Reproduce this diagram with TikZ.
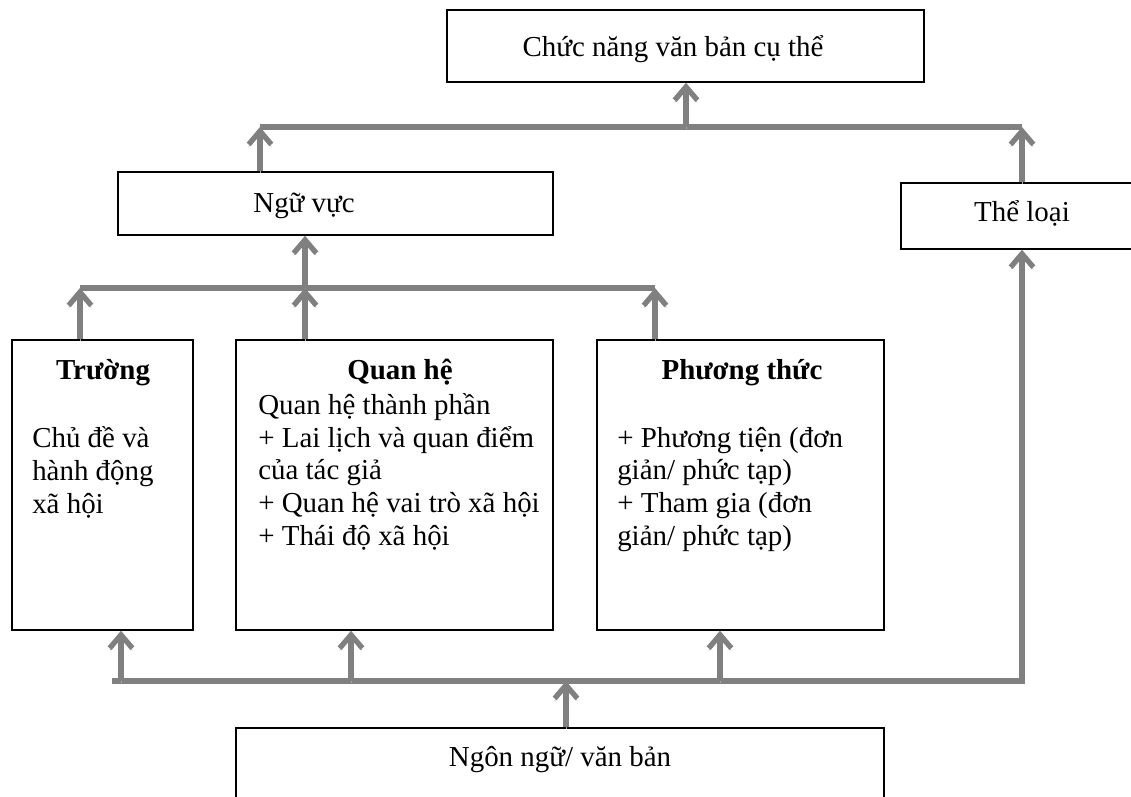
\documentclass[tikz,border=0pt]{standalone}
\usepackage{fontspec}
\setmainfont{Liberation Serif}
\usetikzlibrary{arrows.meta, positioning, fit}
\tikzset{
    x=0.75pt, y=-0.75pt, % one unit is one pixel of the drawing
    every node/.style={font=\fontsize{21.7}{24.4}\selectfont}, % Times-like text everywhere
    box/.style={draw, line width=1.1pt, inner sep=0pt}, % the plain rectangles
    boxtext/.style={anchor=base, inner sep=0pt}, % one centred line in a box
    bodytext/.style={anchor=base west, align=left, inner sep=0pt}, % left aligned lines, placed by the last one
    bar/.style={draw=gray, line width=4pt,
        preaction={draw=gray!70, transform canvas={yshift=-1.6pt}}}, % thick grey rail with its shadow
    link/.style={bar, -{Straight Barb[length=10pt, width=17pt, line width=4pt]}}, % grey rail ending in an arrow
}
\begin{document}
\begin{tikzpicture}
    \useasboundingbox (0,0) rectangle (1131,796);

    % boxes
    \node[box, fit={(447,10) (924,82)}] (chucnang) {};
    \node[box, fit={(118,172) (553,235)}] (nguvuc) {};
    \node[box, fit={(901,183) (1150,249)}] (theloai) {};
    \node[box, fit={(12,340) (193,630)}] (truong) {};
    \node[box, fit={(236,340) (553,630)}] (quanhe) {};
    \node[box, fit={(597,340) (884,630)}] (phuongthuc) {};
    \node[box, fit={(236,728) (884,850)}] (ngonngu) {};

    % texts
    \node[boxtext] (chucnang-t) at (673,56) {Chức năng văn bản cụ thể};
    \node[boxtext] (nguvuc-t) at (304,212) {Ngữ vực};
    \node[boxtext] (theloai-t) at (1022,221) {Thể loại};
    \node[boxtext] (ngonngu-t) at (560,766) {Ngôn ngữ/ văn bản};
    \node[boxtext] (truong-t) at (103,379) {\textbf{Trường}};
    \node[boxtext] (quanhe-t) at (400,379) {\textbf{Quan hệ}};
    \node[boxtext] (phuongthuc-t) at (742,379) {\textbf{Phương thức}};
    \node[bodytext] (truong-b) at (32,513) {Chủ đề và\\hành động\\xã hội};
    \node[bodytext] (quanhe-b) at (258,545) {Quan hệ thành phần\\+ Lai lịch và quan điểm\\của tác giả\\+ Quan hệ vai trò xã hội\\+ Thái độ xã hội};
    \node[bodytext] (phuongthuc-b) at (617,545) {+ Phương tiện (đơn\\giản/ phức tạp)\\+ Tham gia (đơn\\giản/ phức tạp)};

    % rails
    \coordinate (b1l) at (260,127);
    \coordinate (b1m) at (686,127);
    \coordinate (b1r) at (1022,127);
    \coordinate (b2l) at (80,288);
    \coordinate (b2m) at (305,288);
    \coordinate (b2r) at (655,288);
    \coordinate (b3l) at (112,681);
    \coordinate (b3a) at (121,681);
    \coordinate (b3b) at (351,681);
    \coordinate (b3m) at (566,681);
    \coordinate (b3c) at (720,681);
    \coordinate (b3r) at (1022,681);

    \draw[bar] (b1l) -- (b1r);
    \draw[link] (b1m) -- (b1m |- chucnang.south);
    \draw[link] (b1l |- nguvuc.north) -- (b1l);
    \draw[link] (b1r |- theloai.north) -- (b1r);

    \draw[bar] (b2l) -- (b2r);
    \draw[link] (b2m) -- (b2m |- nguvuc.south);
    \draw[link] (b2l |- truong.north) -- (b2l);
    \draw[link] (b2m |- quanhe.north) -- (b2m);
    \draw[link] (b2r |- phuongthuc.north) -- (b2r);

    \draw[link] (b3l) -- (b3r) -- (b3r |- theloai.south);
    \draw[link] (b3a) -- (b3a |- truong.south);
    \draw[link] (b3b) -- (b3b |- quanhe.south);
    \draw[link] (b3c) -- (b3c |- phuongthuc.south);
    \draw[link] (b3m |- ngonngu.north) -- (b3m);
\end{tikzpicture}
\end{document}
